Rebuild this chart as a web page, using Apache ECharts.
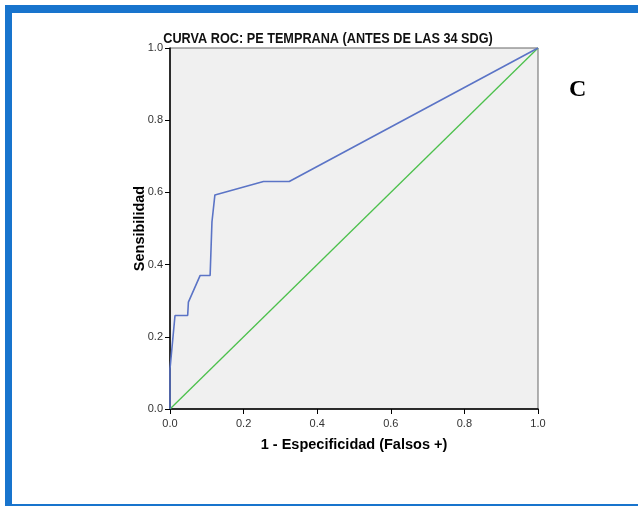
<!DOCTYPE html>
<html><head><meta charset="utf-8">
<script src="https://cdn.jsdelivr.net/npm/echarts@6/dist/echarts.min.js"></script>
<style>html,body{margin:0;padding:0;background:#fff}#c{width:638px;height:506px}</style>
</head><body><div id="c"></div>
<script>
var rocX = [0, 0, 0.0136, 0.048, 0.05, 0.082, 0.109, 0.114, 0.122, 0.254, 0.324, 1];
var rocY = [0, 0.111, 0.259, 0.259, 0.296, 0.370, 0.370, 0.518, 0.593, 0.630, 0.630, 1];
var refX = [0, 1];
var refY = [0, 1];
var tickLabels = ['0.0', '0.2', '0.4', '0.6', '0.8', '1.0'];

var chart = echarts.init(document.getElementById('c'), null, {renderer: 'canvas'});
var rocData = rocX.map(function (x, i) { return [x, rocY[i]]; });
var refData = refX.map(function (x, i) { return [x, refY[i]]; });
var fmt = function (v) { return tickLabels[Math.round(v / 0.2)]; };
var axisCommon = {
  type: 'value', min: 0, max: 1, interval: 0.2,
  nameMoveOverlap: false,
  axisLine: {show: true, lineStyle: {color: '#000', width: 1.5}},
  axisTick: {show: true, length: 5, lineStyle: {color: '#000', width: 1}},
  splitLine: {show: false},
  axisLabel: {formatter: fmt, color: '#333', fontSize: 11, fontFamily: 'Liberation Sans, Arial, sans-serif'},
  nameTextStyle: {color: '#000', fontSize: 14.5, fontWeight: 'bold', fontFamily: 'Liberation Sans, Arial, sans-serif'}
};
chart.setOption({
  animation: false,
  backgroundColor: '#fff',
  grid: {left: 170, top: 48, width: 368, height: 361, show: true, backgroundColor: '#f0f0f0', borderColor: '#666', borderWidth: 1},
  xAxis: Object.assign({}, axisCommon, {
    name: '1 - Especificidad (Falsos +)', nameLocation: 'middle', nameGap: 28,
    axisLabel: Object.assign({}, axisCommon.axisLabel, {margin: 9})
  }),
  yAxis: Object.assign({}, axisCommon, {
    name: 'Sensibilidad', nameLocation: 'middle', nameGap: 23,
    axisLabel: Object.assign({}, axisCommon.axisLabel, {margin: 7})
  }),
  series: [
    {type: 'line', data: refData, symbol: 'none', lineStyle: {color: '#4cc04c', width: 1.3}, z: 2},
    {type: 'line', data: rocData, symbol: 'none', lineStyle: {color: '#5b74c6', width: 1.6}, z: 3}
  ],
  graphic: [
    {type: 'rect', shape: {x: 5, y: 5, width: 633, height: 8}, style: {fill: '#1874cd'}},
    {type: 'rect', shape: {x: 5, y: 5, width: 7, height: 501}, style: {fill: '#1874cd'}},
    {type: 'rect', shape: {x: 5, y: 504, width: 633, height: 2}, style: {fill: '#1874cd'}},
    {type: 'text', x: 328, y: 39, scaleX: 0.846, scaleY: 1,
      style: {text: 'CURVA ROC: PE TEMPRANA (ANTES DE LAS 34 SDG)', align: 'center', verticalAlign: 'middle',
        fontSize: 15, fontWeight: 'bold', fontFamily: 'Liberation Sans, Arial, sans-serif', fill: '#111'}},
    {type: 'text', left: 569, top: 78, style: {text: 'C', fontSize: 24, fontWeight: 'bold', fontFamily: 'Liberation Serif, DejaVu Serif, serif', fill: '#000'}}
  ]
});
</script></body></html>
